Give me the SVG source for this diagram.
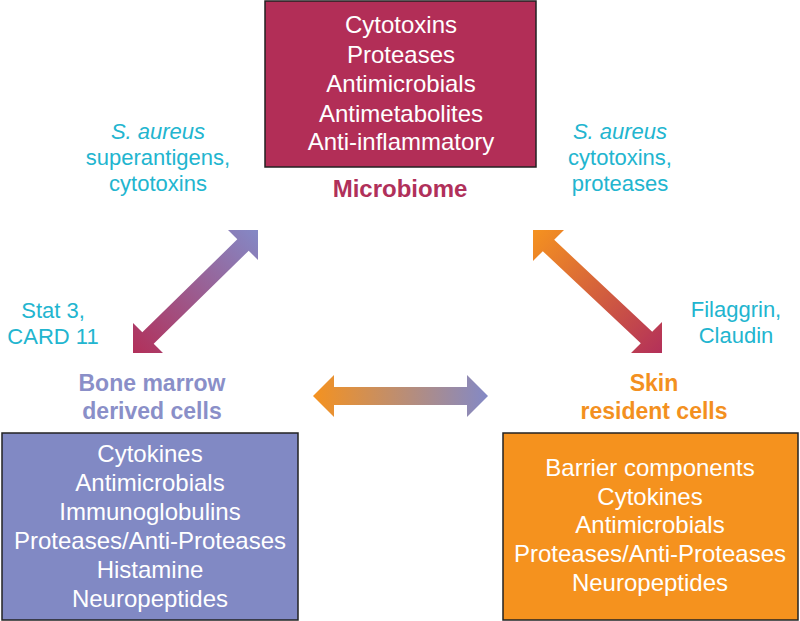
<svg xmlns="http://www.w3.org/2000/svg" width="800" height="621" viewBox="0 0 800 621">
<defs>
  <linearGradient id="gLeft" gradientUnits="userSpaceOnUse" x1="133" y1="353" x2="258" y2="230">
    <stop offset="0" stop-color="#b2305a"/>
    <stop offset="1" stop-color="#8489c6"/>
  </linearGradient>
  <linearGradient id="gRight" gradientUnits="userSpaceOnUse" x1="533" y1="230" x2="662" y2="353">
    <stop offset="0" stop-color="#f5921f"/>
    <stop offset="1" stop-color="#b3305a"/>
  </linearGradient>
  <linearGradient id="gHoriz" gradientUnits="userSpaceOnUse" x1="313" y1="396" x2="488" y2="396">
    <stop offset="0" stop-color="#f5921f"/>
    <stop offset="1" stop-color="#8389c6"/>
  </linearGradient>
</defs>
<style>
  .box { stroke: #222; stroke-width: 1.5; }
  .bt { font-family: "Liberation Sans", Arial, sans-serif; font-size: 24px; fill: #ffffff; text-anchor: middle; }
  .lab { font-family: "Liberation Sans", Arial, sans-serif; font-size: 23px; font-weight: bold; text-anchor: middle; }
  .cy { font-family: "Liberation Sans", Arial, sans-serif; font-size: 22px; fill: #22b5cf; text-anchor: middle; }
</style>
<rect width="800" height="621" fill="#ffffff"/>

<g id="microbiome">
  <rect class="box" x="265" y="1" width="271" height="166" fill="#b22e57"/>
  <text class="bt" x="401" y="33">Cytotoxins</text>
  <text class="bt" x="401" y="63">Proteases</text>
  <text class="bt" x="401" y="92">Antimicrobials</text>
  <text class="bt" x="401" y="122">Antimetabolites</text>
  <text class="bt" x="401" y="150">Anti-inflammatory</text>
  <text class="lab" x="400" y="197" fill="#b0305a" style="font-size:24px">Microbiome</text>
</g>

<g id="bone-marrow">
  <text class="lab" x="152" y="391" fill="#8a8fc8">Bone marrow</text>
  <text class="lab" x="152" y="419" fill="#8a8fc8">derived cells</text>
  <rect class="box" x="2" y="433" width="296" height="187" fill="#8189c4"/>
  <text class="bt" x="150" y="462">Cytokines</text>
  <text class="bt" x="150" y="491">Antimicrobials</text>
  <text class="bt" x="150" y="520">Immunoglobulins</text>
  <text class="bt" x="150" y="549">Proteases/Anti-Proteases</text>
  <text class="bt" x="150" y="578">Histamine</text>
  <text class="bt" x="150" y="607">Neuropeptides</text>
</g>

<g id="skin">
  <text class="lab" x="654" y="391" fill="#f39020">Skin</text>
  <text class="lab" x="654" y="419" fill="#f39020">resident cells</text>
  <rect class="box" x="503" y="433" width="295" height="187" fill="#f5921e"/>
  <text class="bt" x="650" y="476">Barrier components</text>
  <text class="bt" x="650" y="505">Cytokines</text>
  <text class="bt" x="650" y="533">Antimicrobials</text>
  <text class="bt" x="650" y="562">Proteases/Anti-Proteases</text>
  <text class="bt" x="650" y="591">Neuropeptides</text>
</g>

<g id="labels">
  <text class="cy" x="158" y="139" font-style="italic">S. aureus</text>
  <text class="cy" x="158" y="165">superantigens,</text>
  <text class="cy" x="158" y="191">cytotoxins</text>
  <text class="cy" x="620" y="139" font-style="italic">S. aureus</text>
  <text class="cy" x="620" y="165">cytotoxins,</text>
  <text class="cy" x="620" y="191">proteases</text>
  <text class="cy" x="53" y="318">Stat 3,</text>
  <text class="cy" x="53" y="344">CARD 11</text>
  <text class="cy" x="736" y="317">Filaggrin,</text>
  <text class="cy" x="736" y="343">Claudin</text>
</g>

<g id="connectors">
  <polygon fill="url(#gLeft)" points="258,230 258,260 248.7,250.7 153.7,343.7 163,353 133,353 133,323 142.3,332.3 237.3,239.3 228,230"/>
  <polygon fill="url(#gRight)" points="533,230 564,230 554.2,239.8 652.2,331.8 662,322 662,353 631,353 640.8,343.2 542.8,251.2 533,261"/>
  <polygon fill="url(#gHoriz)" points="313,396 334,375 334,387 467,387 467,375 488,396 467,417 467,405 334,405 334,417"/>
</g>
</svg>
